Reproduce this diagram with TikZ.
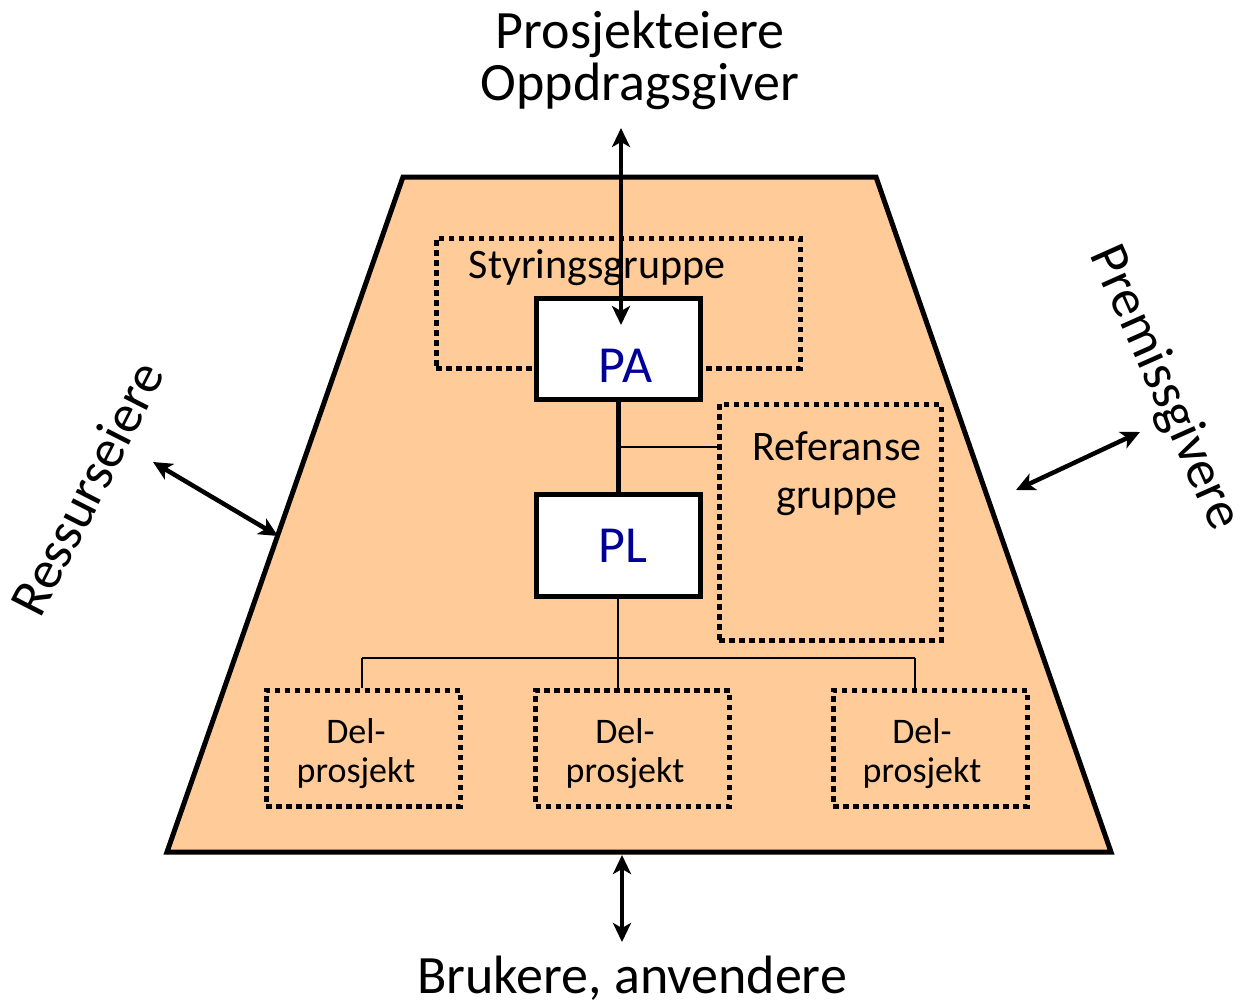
\documentclass[tikz,border=0pt]{standalone}
\usepackage{fontspec}
\setmainfont{Carlito}
\usetikzlibrary{arrows.meta,calc}
\definecolor{peach}{RGB}{255,204,153}
\definecolor{rolenavy}{RGB}{0,0,153}

\begin{document}
\begin{tikzpicture}[x=1pt,y=-1pt,
  frame/.style={draw=black, fill=peach, line width=5pt, line join=miter},
  rolebox/.style={draw=black, fill=white, line width=5pt, inner sep=0pt,
    minimum width=164pt, text=rolenavy, font=\fontsize{52}{56}\selectfont},
  groupbox/.style={draw=black, line width=5pt, dash pattern=on 5.5pt off 4.5pt, inner sep=0pt},
  boss/.style={line width=5pt},
  link/.style={line width=2pt},
  twoway/.style={line width=4.5pt,
    {Stealth[length=19pt,width=18pt,inset=5pt]}-{Stealth[length=19pt,width=18pt,inset=5pt]}},
  bigtext/.style={font=\fontsize{54}{52}\selectfont, inner sep=0pt, align=center},
  midtext/.style={font=\fontsize{42}{48}\selectfont, inner sep=0pt, align=center},
  smalltext/.style={font=\fontsize{36}{39}\selectfont, inner sep=0pt, align=center},
]
\useasboundingbox (0,0) rectangle (1243,1007);

% project frame
\draw[frame] (403,177) coordinate (tl) -- (876,177) coordinate (tr)
  -- (1111,852) coordinate (br) -- (167,852) coordinate (bl) -- cycle;

% dotted groups (two-line labels are anchored on their last baseline)
\node[groupbox, minimum width=364pt, minimum height=130pt] (styr) at (618,303) {};
\node[midtext, anchor=base] (styrtext) at (597,278) {Styringsgruppe};
\node[groupbox, minimum width=222pt, minimum height=236pt] (ref) at (830,522) {};
\node[midtext, anchor=base] (reftext) at (837,508) {Referanse\\gruppe};

\foreach \i/\cx/\tx in {1/363/356, 2/632.5/625, 3/930/922} {
  \node[groupbox, minimum width=194pt, minimum height=116pt] (d\i) at (\cx,748) {};
  \node[smalltext, anchor=base] (dtext\i) at (\tx,782) {Del-\\prosjekt};
}

% project owner and project manager
\node[rolebox, minimum height=101pt, text height=67pt, text depth=0pt] (pa) at (618,348.5) {\hspace*{15pt}PA};
\node[rolebox, minimum height=102pt, text height=34pt, text depth=0pt] (pl) at (618,545) {\hspace*{9pt}PL};

% organisation lines
\draw[boss] (pa.south) -- (pl.north);
\coordinate (refjoin) at ($(pa.south)!0.5!(pl.north)$);
\draw[link] (refjoin) -- (refjoin -| ref.west);
\coordinate (busL) at (362,658);
\coordinate (busR) at (915,658);
\draw[link] (pl.south) -- (pl.south |- d2.north);
\draw[link] (busL) -- (busR);
\draw[link] (busL) -- (busL |- d1.north);
\draw[link] (busR) -- (busR |- d3.north);

% stakeholders
\node[bigtext, anchor=base] (owners) at (640,100) {Prosjekteiere\\Oppdragsgiver};
\node[bigtext, anchor=base] (users) at (632,993) {Brukere, anvendere};
\node[bigtext, rotate=63] (ressurs) at (87,488) {Ressurseiere};
\node[bigtext, rotate=-66] (premiss) at (1164,388) {Premissgivere};

\coordinate (ownA) at (621,128);
\coordinate (ownB) at (621,325);
\coordinate (resA) at (153,462);
\coordinate (resB) at (278,536);
\coordinate (preA) at (1016,490);
\coordinate (preB) at (1140,432);
\coordinate (usrA) at (622,855);
\coordinate (usrB) at (622,942);

\draw[twoway] (ownA) -- (ownB);
\draw[twoway] (resA) -- (resB);
\draw[twoway] (preA) -- (preB);
\draw[twoway] (usrA) -- (usrB);
\end{tikzpicture}
\end{document}
